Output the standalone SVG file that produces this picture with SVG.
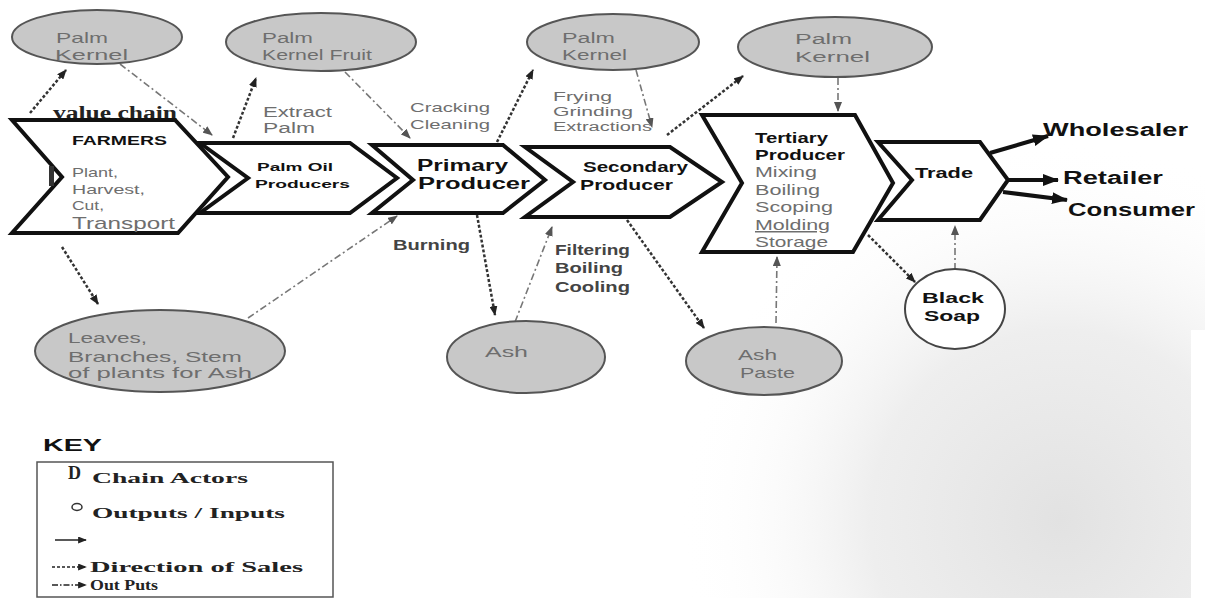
<svg xmlns="http://www.w3.org/2000/svg" width="1205" height="598" viewBox="0 0 1205 598">
<defs>
<style>
.chev{fill:#fff;stroke:#111;stroke-width:4;stroke-linejoin:miter}
.ell{fill:#c8c8c8;stroke:#555;stroke-width:2}
.ellw{fill:#fff;stroke:#444;stroke-width:2}
.t{font-family:"Liberation Sans",Arial,sans-serif}
.g{fill:#6e6e6e}
.b{font-weight:bold}
.k{fill:#111}
.dk{fill:#444}
.serif{font-family:"Liberation Serif","Times New Roman",serif;font-weight:bold;fill:#222}
.sales{fill:none;stroke:#333;stroke-width:2.5;stroke-dasharray:3 2}
.outp{fill:none;stroke:#777;stroke-width:1.6;stroke-dasharray:7 3 2 3}
.solid{fill:none;stroke:#111;stroke-width:4}
</style>
<marker id="ah" viewBox="0 0 10 8" refX="9" refY="4" markerWidth="10" markerHeight="8" markerUnits="userSpaceOnUse" orient="auto"><path d="M0,0 L10,4 L0,8 z" fill="#222"/></marker>
<marker id="ahg" viewBox="0 0 10 8" refX="9" refY="4" markerWidth="10" markerHeight="8" markerUnits="userSpaceOnUse" orient="auto"><path d="M0,0 L10,4 L0,8 z" fill="#555"/></marker>
<marker id="ahb" viewBox="0 0 16 12" refX="15" refY="6" markerWidth="16" markerHeight="12" markerUnits="userSpaceOnUse" orient="auto"><path d="M0,0 L16,6 L0,12 z" fill="#111"/></marker>
<marker id="ahk" viewBox="0 0 10 8" refX="9" refY="4" markerWidth="9" markerHeight="7" markerUnits="userSpaceOnUse" orient="auto"><path d="M0,0 L10,4 L0,8 z" fill="#222"/></marker>
<radialGradient id="bg" gradientUnits="userSpaceOnUse" cx="1060" cy="520" r="380">
<stop offset="0" stop-color="#e2e2e2" stop-opacity="1"/>
<stop offset="0.5" stop-color="#ebebeb" stop-opacity="0.85"/>
<stop offset="1" stop-color="#ffffff" stop-opacity="0"/>
</radialGradient>
</defs>
<rect x="0" y="0" width="1205" height="598" fill="#fff"/>
<rect x="0" y="0" width="1205" height="598" fill="url(#bg)"/>
<rect x="1191" y="330" width="14" height="268" fill="#fff"/>

<text class="serif" x="53" y="119" font-size="18" textLength="124" lengthAdjust="spacingAndGlyphs">value chain</text>

<g id="connectors">
<line class="sales" x1="30" y1="113" x2="66" y2="70" marker-end="url(#ah)"/>
<line class="outp" x1="120" y1="64" x2="212" y2="135" marker-end="url(#ahg)"/>
<line class="sales" x1="233" y1="138" x2="256" y2="78" marker-end="url(#ah)"/>
<line class="outp" x1="345" y1="72" x2="410" y2="138" marker-end="url(#ahg)"/>
<line class="sales" x1="497" y1="142" x2="533" y2="70" marker-end="url(#ah)"/>
<line class="outp" x1="636" y1="70" x2="652" y2="127" marker-end="url(#ahg)"/>
<line class="sales" x1="667" y1="135" x2="743" y2="76" marker-end="url(#ah)"/>
<line class="outp" x1="838" y1="78" x2="838" y2="111" marker-end="url(#ahg)"/>
<line class="outp" x1="248" y1="318" x2="397" y2="216" marker-end="url(#ahg)"/>
<line class="sales" x1="62" y1="247" x2="98" y2="304" marker-end="url(#ah)"/>
<line class="sales" x1="477" y1="215" x2="495" y2="315" marker-end="url(#ah)"/>
<line class="outp" x1="515" y1="322" x2="552" y2="227" marker-end="url(#ahg)"/>
<line class="sales" x1="627" y1="220" x2="704" y2="328" marker-end="url(#ah)"/>
<line class="outp" x1="776" y1="323" x2="777" y2="257" marker-end="url(#ahg)"/>
<line class="sales" x1="868" y1="235" x2="915" y2="282" marker-end="url(#ah)"/>
<line class="outp" x1="955" y1="270" x2="955" y2="226" marker-end="url(#ahg)"/>
<line class="solid" x1="990" y1="153" x2="1048" y2="136" marker-end="url(#ahb)"/>
<line class="solid" x1="1008" y1="180" x2="1058" y2="180" marker-end="url(#ahb)"/>
<line class="solid" x1="1003" y1="192" x2="1067" y2="200" marker-end="url(#ahb)"/>
</g>

<g id="farmers">
<polygon class="chev" points="12,120 175,120 228,177 178,233 12,233 62,177"/>
<rect x="49" y="166" width="5" height="20" fill="#333"/>
<text class="t b k" x="72" y="145" font-size="12" textLength="95" lengthAdjust="spacingAndGlyphs">FARMERS</text>
<text class="t g" x="72" y="177" font-size="13" textLength="46" lengthAdjust="spacingAndGlyphs">Plant,</text>
<text class="t g" x="72" y="194" font-size="13" textLength="73" lengthAdjust="spacingAndGlyphs">Harvest,</text>
<text class="t g" x="72" y="210" font-size="13" textLength="32" lengthAdjust="spacingAndGlyphs">Cut,</text>
<text class="t g" x="72" y="229" font-size="17" textLength="103" lengthAdjust="spacingAndGlyphs">Transport</text>
</g>

<g id="palm-oil-producers">
<polygon class="chev" points="200,143 350,143 397,178 350,213 200,213 248,178"/>
<text class="t b k" x="257" y="171" font-size="11" textLength="76" lengthAdjust="spacingAndGlyphs">Palm Oil</text>
<text class="t b k" x="255" y="188" font-size="11" textLength="95" lengthAdjust="spacingAndGlyphs">Producers</text>
</g>

<g id="primary-producer">
<polygon class="chev" points="372,145 503,145 545,180 503,213 372,213 413,180"/>
<text class="t b k" x="417" y="171" font-size="16" textLength="91" lengthAdjust="spacingAndGlyphs">Primary</text>
<text class="t b k" x="418" y="189" font-size="16" textLength="112" lengthAdjust="spacingAndGlyphs">Producer</text>
</g>

<g id="secondary-producer">
<polygon class="chev" points="525,147 670,147 722,182 670,217 525,217 573,182"/>
<text class="t b k" x="583" y="172" font-size="14" textLength="105" lengthAdjust="spacingAndGlyphs">Secondary</text>
<text class="t b k" x="580" y="190" font-size="14" textLength="93" lengthAdjust="spacingAndGlyphs">Producer</text>
</g>

<g id="tertiary-producer">
<polygon class="chev" points="702,115 855,115 893,183 853,252 702,252 742,183"/>
<text class="t b k" x="755" y="143" font-size="15" textLength="73" lengthAdjust="spacingAndGlyphs">Tertiary</text>
<text class="t b k" x="755" y="160" font-size="15" textLength="90" lengthAdjust="spacingAndGlyphs">Producer</text>
<text class="t g" x="755" y="177" font-size="15" textLength="62" lengthAdjust="spacingAndGlyphs">Mixing</text>
<text class="t g" x="755" y="195" font-size="15" textLength="65" lengthAdjust="spacingAndGlyphs">Boiling</text>
<text class="t g" x="755" y="212" font-size="15" textLength="78" lengthAdjust="spacingAndGlyphs">Scoping</text>
<text class="t g" x="755" y="230" font-size="15" textLength="75" lengthAdjust="spacingAndGlyphs" text-decoration="underline">Molding</text>
<text class="t g" x="755" y="247" font-size="15" textLength="73" lengthAdjust="spacingAndGlyphs">Storage</text>
</g>

<g id="trade">
<polygon class="chev" points="878,142 980,142 1008,180 980,220 878,220 912,180"/>
<text class="t b k" x="915" y="178" font-size="14" textLength="58" lengthAdjust="spacingAndGlyphs">Trade</text>
</g>

<g id="wholesaler"><text class="t b k" x="1043" y="136" font-size="18" textLength="145" lengthAdjust="spacingAndGlyphs">Wholesaler</text></g>
<g id="retailer"><text class="t b k" x="1063" y="184" font-size="18" textLength="100" lengthAdjust="spacingAndGlyphs">Retailer</text></g>
<g id="consumer"><text class="t b k" x="1068" y="216" font-size="18" textLength="127" lengthAdjust="spacingAndGlyphs">Consumer</text></g>

<g id="palm-kernel-1">
<ellipse class="ell" cx="97" cy="37" rx="85" ry="27"/>
<text class="t g" x="56" y="43" font-size="15" textLength="52" lengthAdjust="spacingAndGlyphs">Palm</text>
<text class="t g" x="55" y="60" font-size="15" textLength="73" lengthAdjust="spacingAndGlyphs">Kernel</text>
</g>
<g id="palm-kernel-fruit">
<ellipse class="ell" cx="321" cy="42" rx="95" ry="29"/>
<text class="t g" x="262" y="43" font-size="14" textLength="51" lengthAdjust="spacingAndGlyphs">Palm</text>
<text class="t g" x="262" y="60" font-size="14" textLength="110" lengthAdjust="spacingAndGlyphs">Kernel Fruit</text>
</g>
<g id="palm-kernel-2">
<ellipse class="ell" cx="613" cy="42" rx="86" ry="28"/>
<text class="t g" x="562" y="43" font-size="14" textLength="53" lengthAdjust="spacingAndGlyphs">Palm</text>
<text class="t g" x="562" y="60" font-size="14" textLength="65" lengthAdjust="spacingAndGlyphs">Kernel</text>
</g>
<g id="palm-kernel-3">
<ellipse class="ell" cx="835" cy="47" rx="97" ry="30"/>
<text class="t g" x="795" y="44" font-size="14" textLength="57" lengthAdjust="spacingAndGlyphs">Palm</text>
<text class="t g" x="795" y="62" font-size="14" textLength="75" lengthAdjust="spacingAndGlyphs">Kernel</text>
</g>
<g id="leaves">
<ellipse class="ell" cx="160" cy="351" rx="125" ry="41"/>
<text class="t g" x="68" y="343" font-size="15" textLength="79" lengthAdjust="spacingAndGlyphs">Leaves,</text>
<text class="t g" x="68" y="362" font-size="15" textLength="174" lengthAdjust="spacingAndGlyphs">Branches, Stem</text>
<text class="t g" x="68" y="378" font-size="15" textLength="184" lengthAdjust="spacingAndGlyphs">of plants for Ash</text>
</g>
<g id="ash">
<ellipse class="ell" cx="526" cy="357" rx="79" ry="36"/>
<text class="t g" x="485" y="357" font-size="15" textLength="43" lengthAdjust="spacingAndGlyphs">Ash</text>
</g>
<g id="ash-paste">
<ellipse class="ell" cx="764" cy="361" rx="78" ry="34"/>
<text class="t g" x="738" y="360" font-size="15" textLength="39" lengthAdjust="spacingAndGlyphs">Ash</text>
<text class="t g" x="740" y="378" font-size="15" textLength="55" lengthAdjust="spacingAndGlyphs">Paste</text>
</g>
<g id="black-soap">
<ellipse class="ellw" cx="955" cy="309" rx="50" ry="40"/>
<text class="t b k" x="922" y="303" font-size="15" textLength="62" lengthAdjust="spacingAndGlyphs">Black</text>
<text class="t b k" x="924" y="321" font-size="15" textLength="56" lengthAdjust="spacingAndGlyphs">Soap</text>
</g>

<g id="labels">
<text class="t g" x="263" y="117" font-size="14" textLength="69" lengthAdjust="spacingAndGlyphs">Extract</text>
<text class="t g" x="263" y="133" font-size="14" textLength="52" lengthAdjust="spacingAndGlyphs">Palm</text>
<text class="t g" x="410" y="112" font-size="13" textLength="80" lengthAdjust="spacingAndGlyphs">Cracking</text>
<text class="t g" x="410" y="129" font-size="13" textLength="80" lengthAdjust="spacingAndGlyphs">Cleaning</text>
<text class="t g" x="553" y="101" font-size="12" textLength="59" lengthAdjust="spacingAndGlyphs">Frying</text>
<text class="t g" x="553" y="116" font-size="12" textLength="80" lengthAdjust="spacingAndGlyphs">Grinding</text>
<text class="t g" x="553" y="131" font-size="12" textLength="99" lengthAdjust="spacingAndGlyphs">Extractions</text>
<text class="t b dk" x="393" y="250" font-size="14" textLength="77" lengthAdjust="spacingAndGlyphs">Burning</text>
<text class="t b dk" x="555" y="255" font-size="14" textLength="75" lengthAdjust="spacingAndGlyphs">Filtering</text>
<text class="t b dk" x="555" y="273" font-size="14" textLength="68" lengthAdjust="spacingAndGlyphs">Boiling</text>
<text class="t b dk" x="555" y="292" font-size="14" textLength="75" lengthAdjust="spacingAndGlyphs">Cooling</text>
</g>

<g id="key">
<text class="t b k" x="43" y="451" font-size="17" textLength="59" lengthAdjust="spacingAndGlyphs">KEY</text>
<rect x="37" y="462" width="296" height="135" fill="none" stroke="#555" stroke-width="1.5"/>
<text class="serif" x="68" y="479" font-size="18">D</text>
<text class="serif" x="92" y="483" font-size="15" textLength="156" lengthAdjust="spacingAndGlyphs">Chain Actors</text>
<ellipse cx="77" cy="507" rx="5" ry="3.5" fill="none" stroke="#333" stroke-width="1.5"/>
<text class="serif" x="92" y="518" font-size="15" textLength="193" lengthAdjust="spacingAndGlyphs">Outputs / Inputs</text>
<line x1="55" y1="540" x2="86" y2="540" stroke="#222" stroke-width="1.5" marker-end="url(#ahk)"/>
<line x1="52" y1="567" x2="86" y2="567" stroke="#222" stroke-width="1.5" stroke-dasharray="3 2" marker-end="url(#ahk)"/>
<text class="serif" x="90" y="572" font-size="15" textLength="213" lengthAdjust="spacingAndGlyphs">Direction of Sales</text>
<line x1="52" y1="585" x2="86" y2="585" stroke="#222" stroke-width="1.5" stroke-dasharray="6 2 1.5 2" marker-end="url(#ahk)"/>
<text class="serif" x="90" y="590" font-size="15" textLength="68" lengthAdjust="spacingAndGlyphs">Out Puts</text>
</g>
</svg>
